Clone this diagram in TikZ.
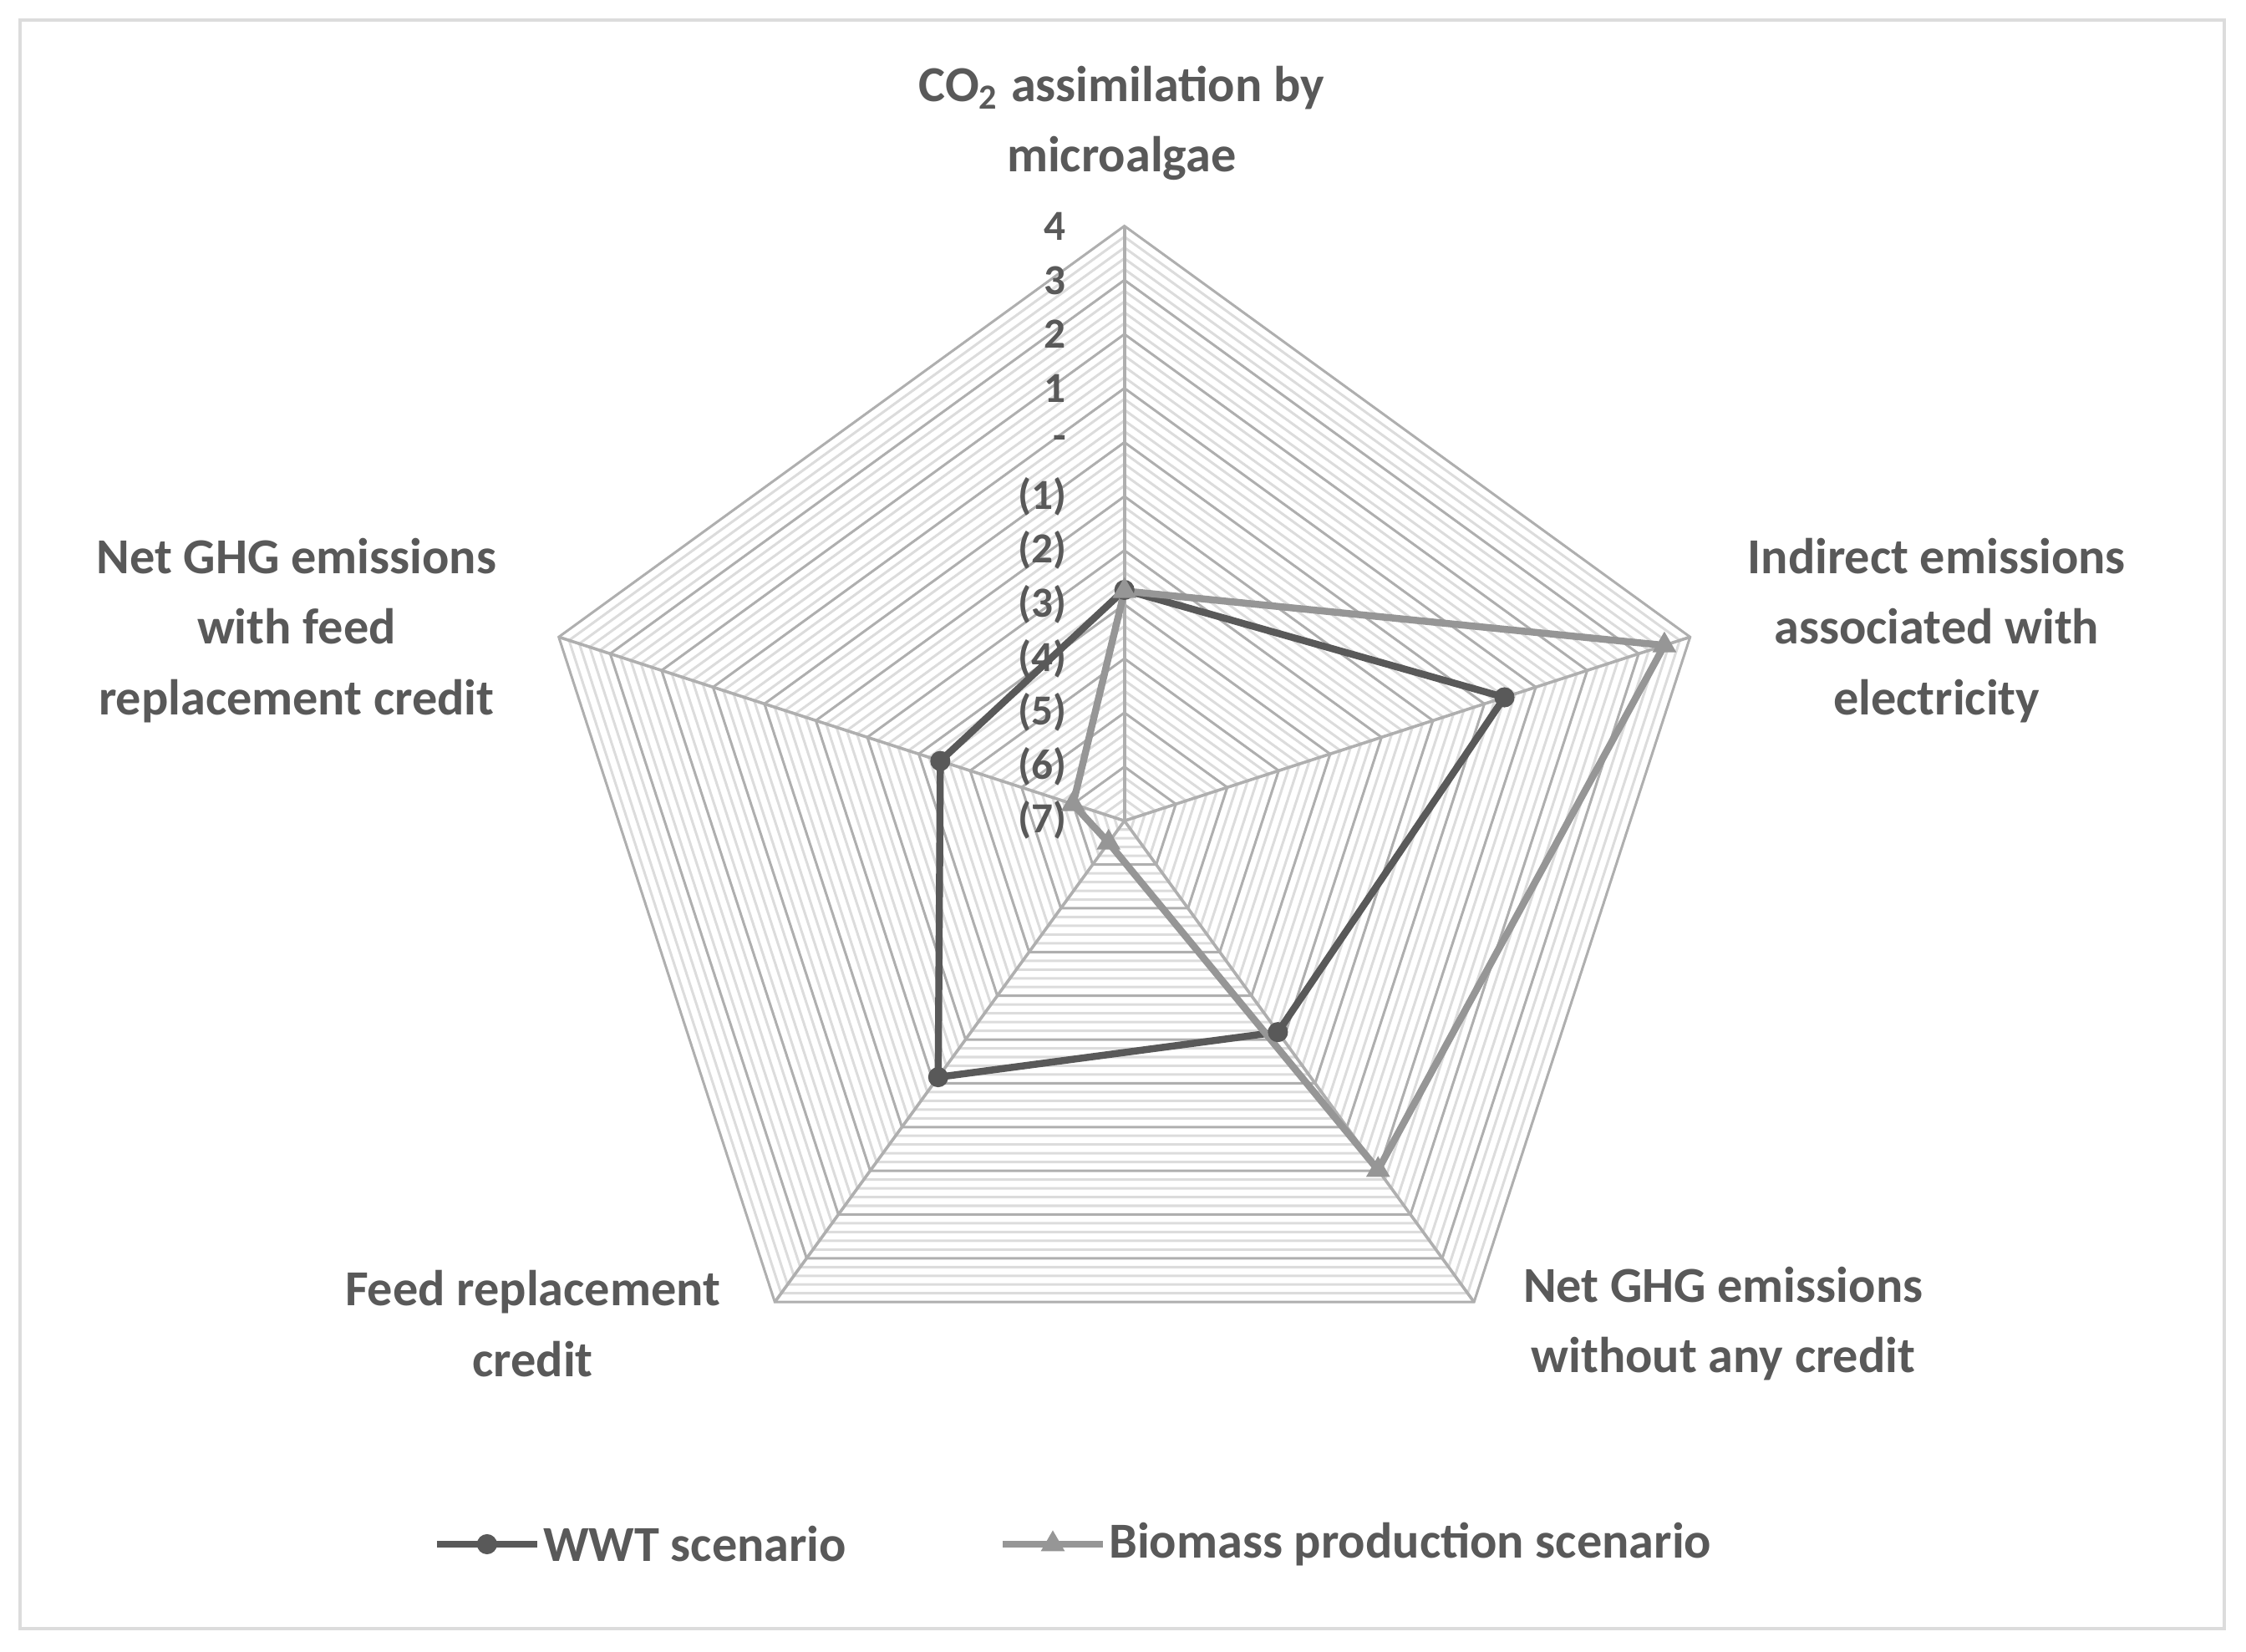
\documentclass[tikz,border=0pt]{standalone}
\usepackage{fontspec}
\setmainfont{Carlito}
\usetikzlibrary{positioning,shapes.geometric,calc}
\definecolor{txtgray}{RGB}{89,89,89}
\definecolor{wwtcol}{RGB}{89,89,89}
\definecolor{biocol}{RGB}{150,150,150}
\definecolor{majgrid}{RGB}{175,175,175}
\definecolor{mingrid}{RGB}{220,220,220}
\tikzset{
  lbl/.style={font=\fontsize{10}{14}\selectfont\bfseries, text=txtgray, align=center},
  tick/.style={font=\fontsize{8.5}{10}\selectfont\bfseries, text=txtgray, anchor=east, inner sep=0pt},
  wwt/.style={draw=wwtcol, line width=1.4pt, line join=round},
  bio/.style={draw=biocol, line width=1.4pt, line join=round},
  wwtmark/.style={circle, fill=wwtcol, inner sep=0pt, minimum size=4pt},
  biomark/.style={regular polygon, regular polygon sides=3, fill=biocol, inner sep=0pt, minimum size=5.5pt},
}
\newcommand{\rad}[1]{(#1+7)/11*4.15}
\begin{document}
\begin{tikzpicture}[x=0.01cm,y=0.01cm]
\useasboundingbox (0,0) rectangle (1568,1153);
\draw[mingrid, line width=0.6pt] (14,16) rectangle (1553,1139);
\coordinate (c) at (785,580);
% minor and major rings
\foreach \k in {1,...,55}{
  \pgfmathsetmacro{\rr}{\k/55*4.15}
  \pgfmathtruncatemacro{\mj}{mod(\k,5)==0 ? 1 : 0}
  \ifnum\mj=1 \def\gc{majgrid}\else\def\gc{mingrid}\fi
  \draw[\gc, line width=0.5pt] ($(c)+(90:\rr cm)$) -- ($(c)+(18:\rr cm)$) -- ($(c)+(-54:\rr cm)$) -- ($(c)+(-126:\rr cm)$) -- ($(c)+(162:\rr cm)$) -- cycle;
}
\foreach \a in {90,18,-54,-126,162}
  \draw[majgrid, line width=0.6pt] (c) -- ($(c)+(\a:4.15cm)$);
% ticks
\foreach \v/\t [count=\i from 0] in {4/4,3/3,2/2,1/1,0/-,-1/(1),-2/(2),-3/(3),-4/(4),-5/(5),-6/(6),-7/(7)}
  \node[tick] (t\i) at (745,{995-\i*37.7}) {\t};
% series
\foreach \n/\a/\w/\b in {p1/90/-2.73/-2.75, p2/18/0.39/3.5, p3/-54/-2.17/0.98, p4/-126/-1.14/-6.5, p5/162/-3.42/-6.0}{
  \coordinate (w\n) at ($(c)+(\a:{\rad{\w} cm})$);
  \coordinate (b\n) at ($(c)+(\a:{\rad{\b} cm})$);
}
\draw[wwt] (wp1) -- (wp2) -- (wp3) -- (wp4) -- (wp5) -- cycle;
\draw[bio] (bp1) -- (bp2) -- (bp3) -- (bp4) -- (bp5) -- cycle;
\foreach \n in {p1,p2,p3,p4,p5}{
  \node[wwtmark] (mw\n) at (w\n) {};
  \node[biomark] (mb\n) at (b\n) {};
}
% axis labels
\node[lbl] (ax1) at (783,1067) {CO\textsubscript{2} assimilation by\\microalgae};
\node[lbl] (ax2) at (1352,713) {Indirect emissions\\associated with\\electricity};
\node[lbl] (ax3) at (1203,229) {Net GHG emissions\\without any credit};
\node[lbl] (ax4) at (372,229) {Feed replacement\\credit};
\node[lbl] (ax5) at (207,713) {Net GHG emissions\\with feed\\replacement credit};
% legend
\coordinate (lw1) at (305,75); \coordinate (lw2) at (375,75);
\draw[wwt] (lw1) -- (lw2);
\node[wwtmark] (lwm) at (340,75) {};
\node[lbl, anchor=west, inner sep=1pt] (lwt) at (lw2) {WWT scenario};
\coordinate (lb1) at (700,75); \coordinate (lb2) at (770,75);
\draw[bio] (lb1) -- (lb2);
\node[biomark] (lbm) at (735,75) {};
\node[lbl, anchor=west, inner sep=1pt] (lbt) at (lb2) {Biomass production scenario};
\end{tikzpicture}
\end{document}
